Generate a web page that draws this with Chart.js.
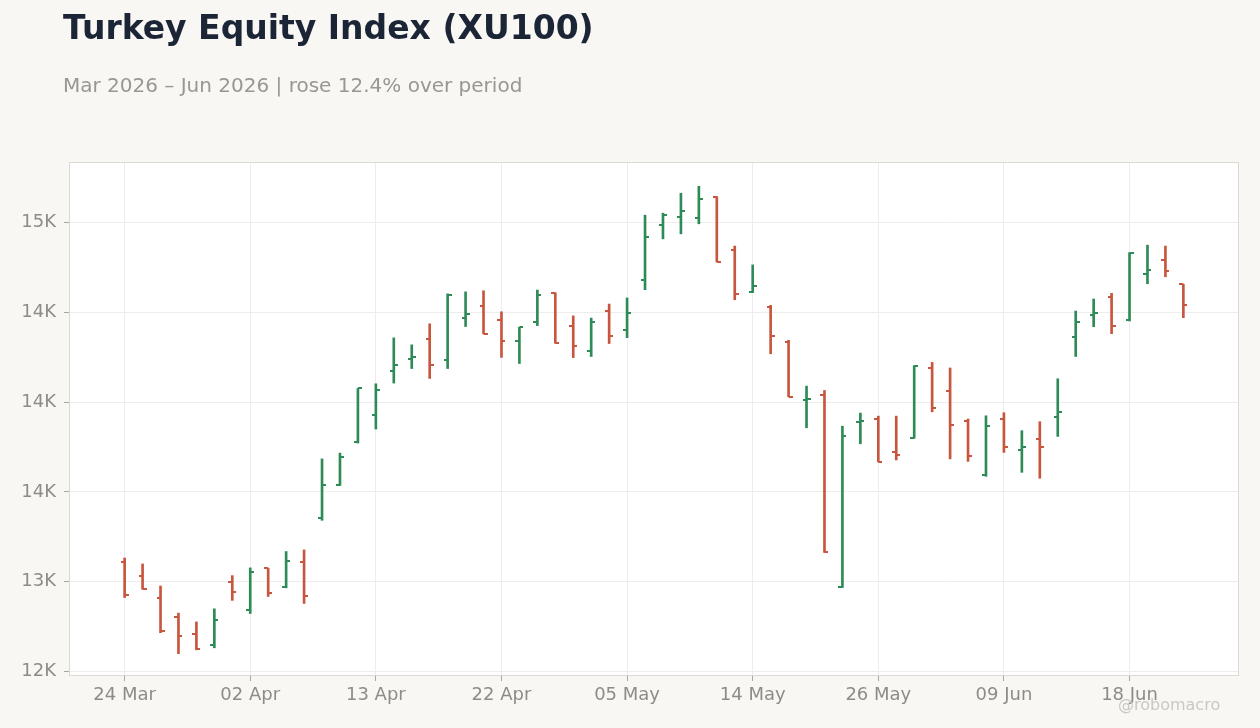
<!DOCTYPE html>
<html>
<head>
<meta charset="utf-8">
<title>Turkey Equity Index (XU100)</title>
<script src="https://cdn.jsdelivr.net/npm/chart.js@4.4.1/dist/chart.umd.min.js"></script>
<style>
  html, body { margin: 0; padding: 0; background: #f8f7f4; }
  body { width: 1260px; height: 728px; position: relative; overflow: hidden; font-family: 'DejaVu Sans', sans-serif; }
  .chart-wrap { position: absolute; left: 0; top: 0; width: 1260px; height: 728px; }
  .title { position: absolute; left: 63px; top: 11px; font-size: 33px; line-height: 33px; font-weight: bold; color: #1c2536; white-space: nowrap; }
  .subtitle { position: absolute; left: 63px; top: 75px; font-size: 20px; line-height: 20px; color: #9a9691; white-space: nowrap; }
  .watermark { position: absolute; left: 1118px; top: 697px; font-size: 16px; line-height: 16px; color: #cbc8c3; white-space: nowrap; }
</style>
</head>
<body>
<div class="chart-wrap"><canvas id="chart-xu100" width="1260" height="728"></canvas></div>
<div class="title">Turkey Equity Index (XU100)</div>
<div class="subtitle">Mar 2026 – Jun 2026 | rose 12.4% over period</div>
<div class="watermark">@robomacro</div>
<script>
// trading days (holidays skipped)
const DATES = [
  '24 Mar', '25 Mar', '26 Mar', '27 Mar', '30 Mar', '31 Mar', '01 Apr', '02 Apr', '03 Apr', '06 Apr',
  '07 Apr', '08 Apr', '09 Apr', '10 Apr', '13 Apr', '14 Apr', '15 Apr', '16 Apr', '17 Apr', '20 Apr',
  '21 Apr', '22 Apr', '24 Apr', '27 Apr', '28 Apr', '29 Apr', '30 Apr', '04 May', '05 May', '06 May',
  '07 May', '08 May', '11 May', '12 May', '13 May', '14 May', '15 May', '18 May', '20 May', '21 May',
  '22 May', '25 May', '26 May', '01 Jun', '02 Jun', '03 Jun', '04 Jun', '05 Jun', '08 Jun', '09 Jun',
  '10 Jun', '11 Jun', '12 Jun', '15 Jun', '16 Jun', '17 Jun', '18 Jun', '19 Jun', '22 Jun', '23 Jun',
];

const OPEN = [
  13108, 13030, 12912, 12806, 12711, 12649, 12996, 12841, 13075, 12968,
  13108, 13357, 13536, 13779, 13930, 14174, 14241, 14354, 14236, 14466,
  14536, 14460, 14343, 14448, 14609, 14426, 14287, 14509, 14404, 14681,
  14987, 15031, 15026, 15144, 14848, 14615, 14532, 14336, 14010, 14041,
  12968, 13890, 13907, 13723, 13799, 14191, 14063, 13893, 13596, 13904,
  13731, 13793, 13915, 14365, 14487, 14587, 14459, 14715, 14793, 14656,
];
const HIGH = [
  13132, 13099, 12976, 12825, 12776, 12849, 13034, 13077, 13075, 13168,
  13177, 13684, 13716, 14076, 14102, 14358, 14319, 14436, 14603, 14614,
  14620, 14503, 14417, 14624, 14609, 14480, 14468, 14546, 14580, 15041,
  15052, 15163, 15202, 15144, 14869, 14764, 14539, 14344, 14089, 14065,
  13866, 13939, 13922, 13922, 14203, 14221, 14190, 13906, 13924, 13941,
  13841, 13891, 14130, 14507, 14574, 14606, 14832, 14874, 14869, 14656,
];
const LOW = [
  12912, 12958, 12716, 12599, 12621, 12632, 12896, 12823, 12918, 12966,
  12879, 13342, 13536, 13772, 13850, 14106, 14187, 14132, 14187, 14421,
  14380, 14249, 14215, 14426, 14328, 14248, 14254, 14326, 14359, 14626,
  14909, 14937, 14993, 14781, 14570, 14610, 14269, 14030, 13857, 13163,
  12968, 13768, 13667, 13678, 13799, 13946, 13684, 13670, 13587, 13720,
  13609, 13576, 13809, 14254, 14420, 14381, 14452, 14659, 14698, 14470,
];
const CLOSE = [
  12927, 12962, 12726, 12700, 12627, 12789, 12940, 13052, 12935, 13114,
  12923, 13540, 13692, 14076, 14065, 14204, 14254, 14204, 14594, 14488,
  14380, 14338, 14417, 14598, 14328, 14315, 14448, 14370, 14498, 14920,
  15043, 15065, 15131, 14781, 14604, 14649, 14368, 14030, 14015, 13163,
  13812, 13896, 13667, 13706, 14203, 13966, 13874, 13698, 13865, 13748,
  13748, 13748, 13943, 14448, 14498, 14426, 14832, 14737, 14731, 14543,
];

const X_TICKS = [0, 7, 14, 21, 28, 35, 42, 49, 56];
const Y_TICKS = [12500, 13000, 13500, 14000, 14500, 15000];
const Y_TICK_LABELS = ['12K', '13K', '14K', '14K', '14K', '15K'];

const UP = '#2e8b57';
const DOWN = '#c8553d';
const TICK_TEXT = '#8f8b86';

const isUp = (i) => CLOSE[i] >= OPEN[i];

// little side arm for open (left) / close (right)
function makeArm(color, side) {
  const c = document.createElement('canvas');
  c.width = 8;
  c.height = 2;
  const g = c.getContext('2d');
  g.fillStyle = color;
  g.fillRect(side === 'left' ? 0 : 4, 0, 4, 2);
  return c;
}
const ARMS = {
  left: { up: makeArm(UP, 'left'), down: makeArm(DOWN, 'left') },
  right: { up: makeArm(UP, 'right'), down: makeArm(DOWN, 'right') },
};

const plotFrame = {
  id: 'plotFrame',
  beforeDraw(chart) {
    const { ctx, chartArea: a } = chart;
    ctx.save();
    ctx.fillStyle = '#ffffff';
    ctx.fillRect(a.left, a.top, a.right - a.left, a.bottom - a.top);
    ctx.restore();
  },
  beforeDatasetsDraw(chart) {
    const { ctx, chartArea: a } = chart;
    ctx.save();
    ctx.strokeStyle = '#dcd8d2';
    ctx.lineWidth = 1;
    ctx.strokeRect(a.left + 0.5, a.top + 0.5, a.right - a.left - 1, a.bottom - a.top - 1);
    ctx.restore();
  },
};

const tickFont = { family: 'DejaVu Sans', size: 18 };

new Chart(document.getElementById('chart-xu100').getContext('2d'), {
  type: 'bar',
  data: {
    datasets: [
      {
        label: 'Range',
        data: DATES.map((d, i) => ({ x: i, y: [LOW[i], HIGH[i]] })),
        backgroundColor: DATES.map((d, i) => (isUp(i) ? UP : DOWN)),
        borderWidth: 0,
        barThickness: 2,
        order: 2,
      },
      {
        type: 'line',
        label: 'Open',
        data: DATES.map((d, i) => ({ x: i, y: OPEN[i] })),
        showLine: false,
        pointRadius: 3,
        pointStyle: (ctx) => ARMS.left[isUp(ctx.dataIndex) ? 'up' : 'down'],
        order: 1,
      },
      {
        type: 'line',
        label: 'Close',
        data: DATES.map((d, i) => ({ x: i, y: CLOSE[i] })),
        showLine: false,
        pointRadius: 3,
        pointStyle: (ctx) => ARMS.right[isUp(ctx.dataIndex) ? 'up' : 'down'],
        order: 1,
      },
    ],
  },
  options: {
    responsive: false,
    animation: false,
    events: [],
    layout: { padding: { top: 162, right: 21, left: 0, bottom: 0 } },
    plugins: {
      legend: { display: false },
      tooltip: { enabled: false },
      title: { display: false },
    },
    scales: {
      x: {
        type: 'linear',
        offset: false,
        min: -3.1,
        max: 62.1,
        afterBuildTicks: (scale) => { scale.ticks = X_TICKS.map((v) => ({ value: v })); },
        afterFit: (scale) => { scale.height = 52; },
        grid: { offset: false, color: '#ededed', tickColor: '#a9a6a1', tickLength: 5 },
        border: { display: false },
        ticks: {
          color: TICK_TEXT,
          font: tickFont,
          padding: 4,
          maxRotation: 0,
          autoSkip: false,
          callback: (v) => DATES[v],
        },
      },
      y: {
        type: 'linear',
        min: 12475,
        max: 15337,
        afterBuildTicks: (scale) => { scale.ticks = Y_TICKS.map((v) => ({ value: v })); },
        afterFit: (scale) => { scale.width = 69; },
        grid: { color: '#ededed', tickColor: '#a9a6a1', tickLength: 5 },
        border: { display: false },
        ticks: {
          color: TICK_TEXT,
          font: tickFont,
          padding: 8,
          autoSkip: false,
          callback: (v, i) => Y_TICK_LABELS[i],
        },
      },
    },
  },
  plugins: [plotFrame],
});
</script>
</body>
</html>
